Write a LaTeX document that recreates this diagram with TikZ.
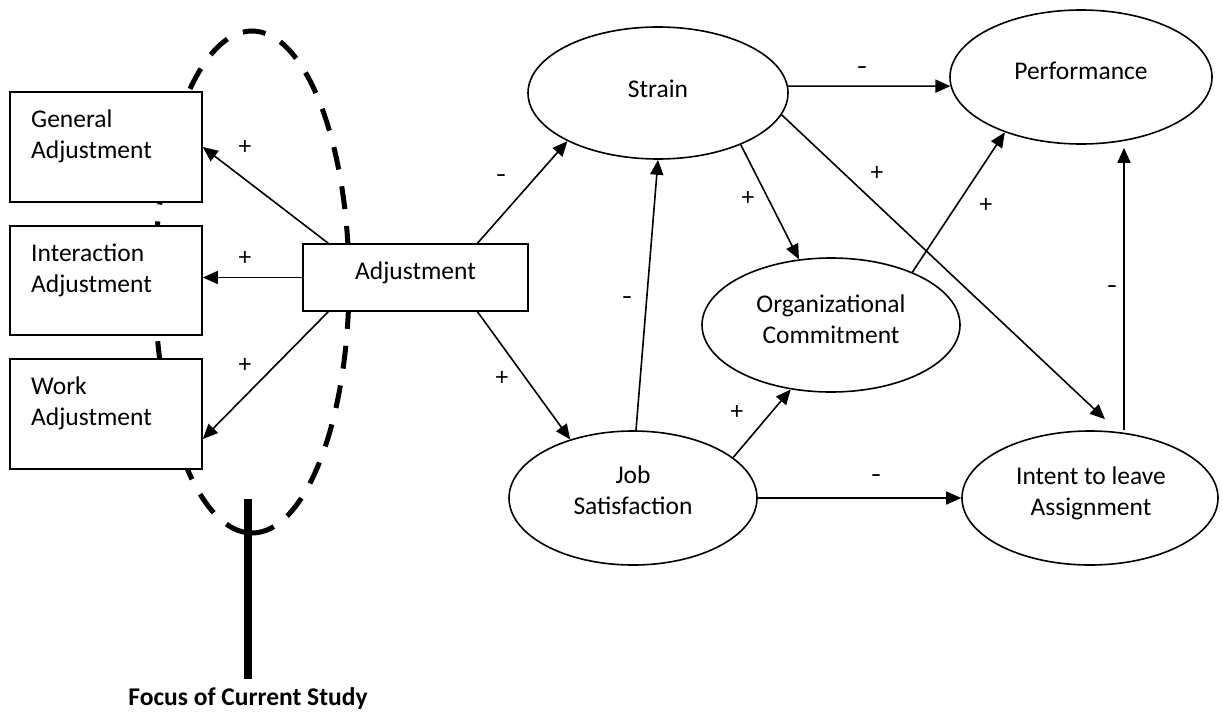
\documentclass[tikz,border=0pt]{standalone}
\usepackage{fontspec}
\setmainfont{Carlito}
\usetikzlibrary{arrows.meta,shapes.geometric,calc}

\begin{document}
\begin{tikzpicture}[x=1pt,y=-1pt,
  every node/.style={font=\fontsize{25.5}{31}\selectfont},
  rbox/.style={rectangle,draw,line width=1.6pt,fill=white,inner sep=0pt},
  oval/.style={ellipse,draw,line width=1.6pt,inner sep=0pt},
  conn/.style={-{Triangle[length=15pt,width=13pt]},line width=1.6pt},
  ltxt/.style={inner sep=0pt,anchor=base west},
  ctxt/.style={inner sep=0pt,anchor=base},
  plus/.style={inner sep=0pt},
  minus/.style={inner sep=0pt,font=\fontsize{21}{25}\selectfont\bfseries},
  focus/.style={line width=5pt,dash pattern=on 23pt off 17pt},
]
\useasboundingbox (0,0) rectangle (1223,715);

% focus region: dashed ellipse, started at its bottom so the first dash runs right
\draw[focus] (252,533) arc[start angle=90,end angle=-270,x radius=97,y radius=251];
\coordinate (stem-top) at (248,499);
\coordinate (stem-bot) at (248,679);
\draw[line width=8pt] (stem-top) -- (stem-bot);
\node[inner sep=0pt,anchor=base,font=\fontsize{25.5}{31}\selectfont\bfseries] (focus-lbl) at (248,705) {Focus of Current Study};

% adjustment facets
\node[rbox,minimum width=192pt,minimum height=110pt] (general) at (106,147) {};
\node[rbox,minimum width=192pt,minimum height=109pt] (inter) at (106,280.5) {};
\node[rbox,minimum width=192pt,minimum height=110pt] (work) at (106,414) {};
\node[ltxt] (general-t) at (31,127) {\begin{tabular}[t]{@{}l@{}}General\\Adjustment\end{tabular}};
\node[ltxt] (inter-t) at (31,261.5) {\begin{tabular}[t]{@{}l@{}}Interaction\\Adjustment\end{tabular}};
\node[ltxt] (work-t) at (31,394.5) {\begin{tabular}[t]{@{}l@{}}Work\\Adjustment\end{tabular}};

\node[rbox,minimum width=225pt,minimum height=67pt] (adj) at (415.5,277.5) {};
\node[ctxt] (adj-t) at (415.5,279) {Adjustment};

% outcome constructs
\node[oval,minimum width=260pt,minimum height=132pt] (strain) at (658,93) {};
\node[oval,minimum width=262pt,minimum height=134pt] (perf) at (1081,77) {};
\node[oval,minimum width=258pt,minimum height=134pt] (org) at (831,325) {};
\node[oval,minimum width=248pt,minimum height=134pt] (job) at (633,498) {};
\node[oval,minimum width=256pt,minimum height=134pt] (intent) at (1090,498) {};

\node[ctxt] (strain-t) at (658,97) {Strain};
\node[ctxt] (perf-t) at (1081,79) {Performance};
\node[ctxt] (org-t) at (831,312) {\begin{tabular}[t]{@{}c@{}}Organizational\\Commitment\end{tabular}};
\node[ctxt] (job-t) at (633,483) {\begin{tabular}[t]{@{}c@{}}Job\\Satisfaction\end{tabular}};
\node[ctxt] (intent-t) at (1091,484.5) {\begin{tabular}[t]{@{}c@{}}Intent to leave\\Assignment\end{tabular}};

% paths
\draw[conn] ([xshift=26pt]adj.north west) -- (general.east);
\draw[conn] (adj.west) -- (adj.west -| inter.east);
\draw[conn] ([xshift=26pt]adj.south west) -- ($(work.east)+(0,25)$);
\draw[conn] ([xshift=62pt]adj.north) -- (strain.208);
\draw[conn] ([xshift=62pt]adj.south) -- (job.137);
\draw[conn] ([xshift=3pt]job.north) -- (strain.south);
\draw[conn] (strain.3) -- (perf.184);
\draw[conn] (strain.-32) -- (org.116);
\draw[conn] (strain.-10) -- ($(intent.north)+(15,-11)$);
\draw[conn] (org.33) -- (perf.216);
\draw[conn] ($(intent.north)+(34,0)$) -- ($(perf.south)+(43,3)$);
\draw[conn] (job.22) -- (org.238);
\draw[conn] (job.east) -- (intent.west);

% signs
\node[plus] (s-gen) at (245,147) {+};
\node[plus] (s-int) at (245,258) {+};
\node[plus] (s-work) at (245,365) {+};
\node[minus] (s-adj-str) at (501,178) {–};
\node[plus] (s-adj-job) at (502,378) {+};
\node[minus] (s-job-str) at (627,300) {–};
\node[minus] (s-str-perf) at (862,70) {–};
\node[plus] (s-str-org) at (748,198) {+};
\node[plus] (s-str-int) at (877,173) {+};
\node[plus] (s-org-perf) at (986,205) {+};
\node[minus] (s-int-perf) at (1112,289) {–};
\node[plus] (s-job-org) at (737,412) {+};
\node[minus] (s-job-int) at (876,478) {–};
\end{tikzpicture}
\end{document}
